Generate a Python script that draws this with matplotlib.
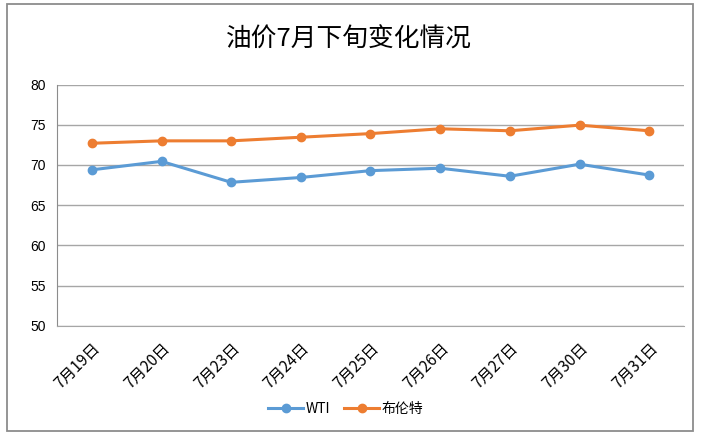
import matplotlib
matplotlib.use("Agg")
import matplotlib.pyplot as plt
from matplotlib.patches import Rectangle

plt.rcParams['font.family'] = ['Noto Sans CJK SC', 'DejaVu Sans']

categories = ["7月19日", "7月20日", "7月23日", "7月24日", "7月25日", "7月26日", "7月27日", "7月30日", "7月31日"]
wti = [69.4, 70.45, 67.85, 68.45, 69.3, 69.6, 68.6, 70.1, 68.75]
brent = [72.7, 73.0, 73.0, 73.45, 73.9, 74.5, 74.25, 74.95, 74.25]
yticks = [50, 55, 60, 65, 70, 75, 80]

fig = plt.figure(figsize=(7.03, 4.38), dpi=100)
ax = fig.add_axes([57/703, 1-326/438, (684-57)/703, (326-84.5)/438])

x = list(range(len(categories)))
ax.plot(x, wti, color='#5b9bd5', lw=2.2, marker='o', ms=6, label='WTI')
ax.plot(x, brent, color='#ed7d31', lw=2.2, marker='o', ms=6, label='布伦特')

ax.set_xlim(-0.5, len(categories) - 0.5)
ax.set_ylim(50, 80)
ax.set_yticks(yticks)
ax.set_yticklabels([str(v) for v in yticks], fontsize=10, family='Liberation Sans')
ax.set_xticks(x)
ax.set_xticklabels(categories, rotation=45, ha='right', rotation_mode='anchor', fontsize=11.2)
ax.tick_params(axis='both', length=0)
ax.tick_params(axis='y', pad=8)
ax.tick_params(axis='x', pad=10)
ax.grid(axis='y', color='#a6a6a6', lw=1)
ax.set_axisbelow(True)
for s in ['top', 'right']:
    ax.spines[s].set_visible(False)
ax.spines['left'].set_color('#8c8c8c')
ax.spines['bottom'].set_color('#a6a6a6')

fig.text(349/703, 1-40/438, '油价7月下旬变化情况', ha='center', va='center', fontsize=18.5, fontweight='light')

leg = fig.legend(loc='center', bbox_to_anchor=(346/703, 1-409/438), ncol=2, frameon=False,
                 fontsize=10, handlelength=2.5, columnspacing=1.0, handletextpad=0.2)

fig.patches.append(Rectangle((7/703, 1-431/438), 686/703, 427/438, transform=fig.transFigure,
                             fill=False, edgecolor='#8c8c8c', lw=1.3))

fig.savefig('out.png', dpi=100)
